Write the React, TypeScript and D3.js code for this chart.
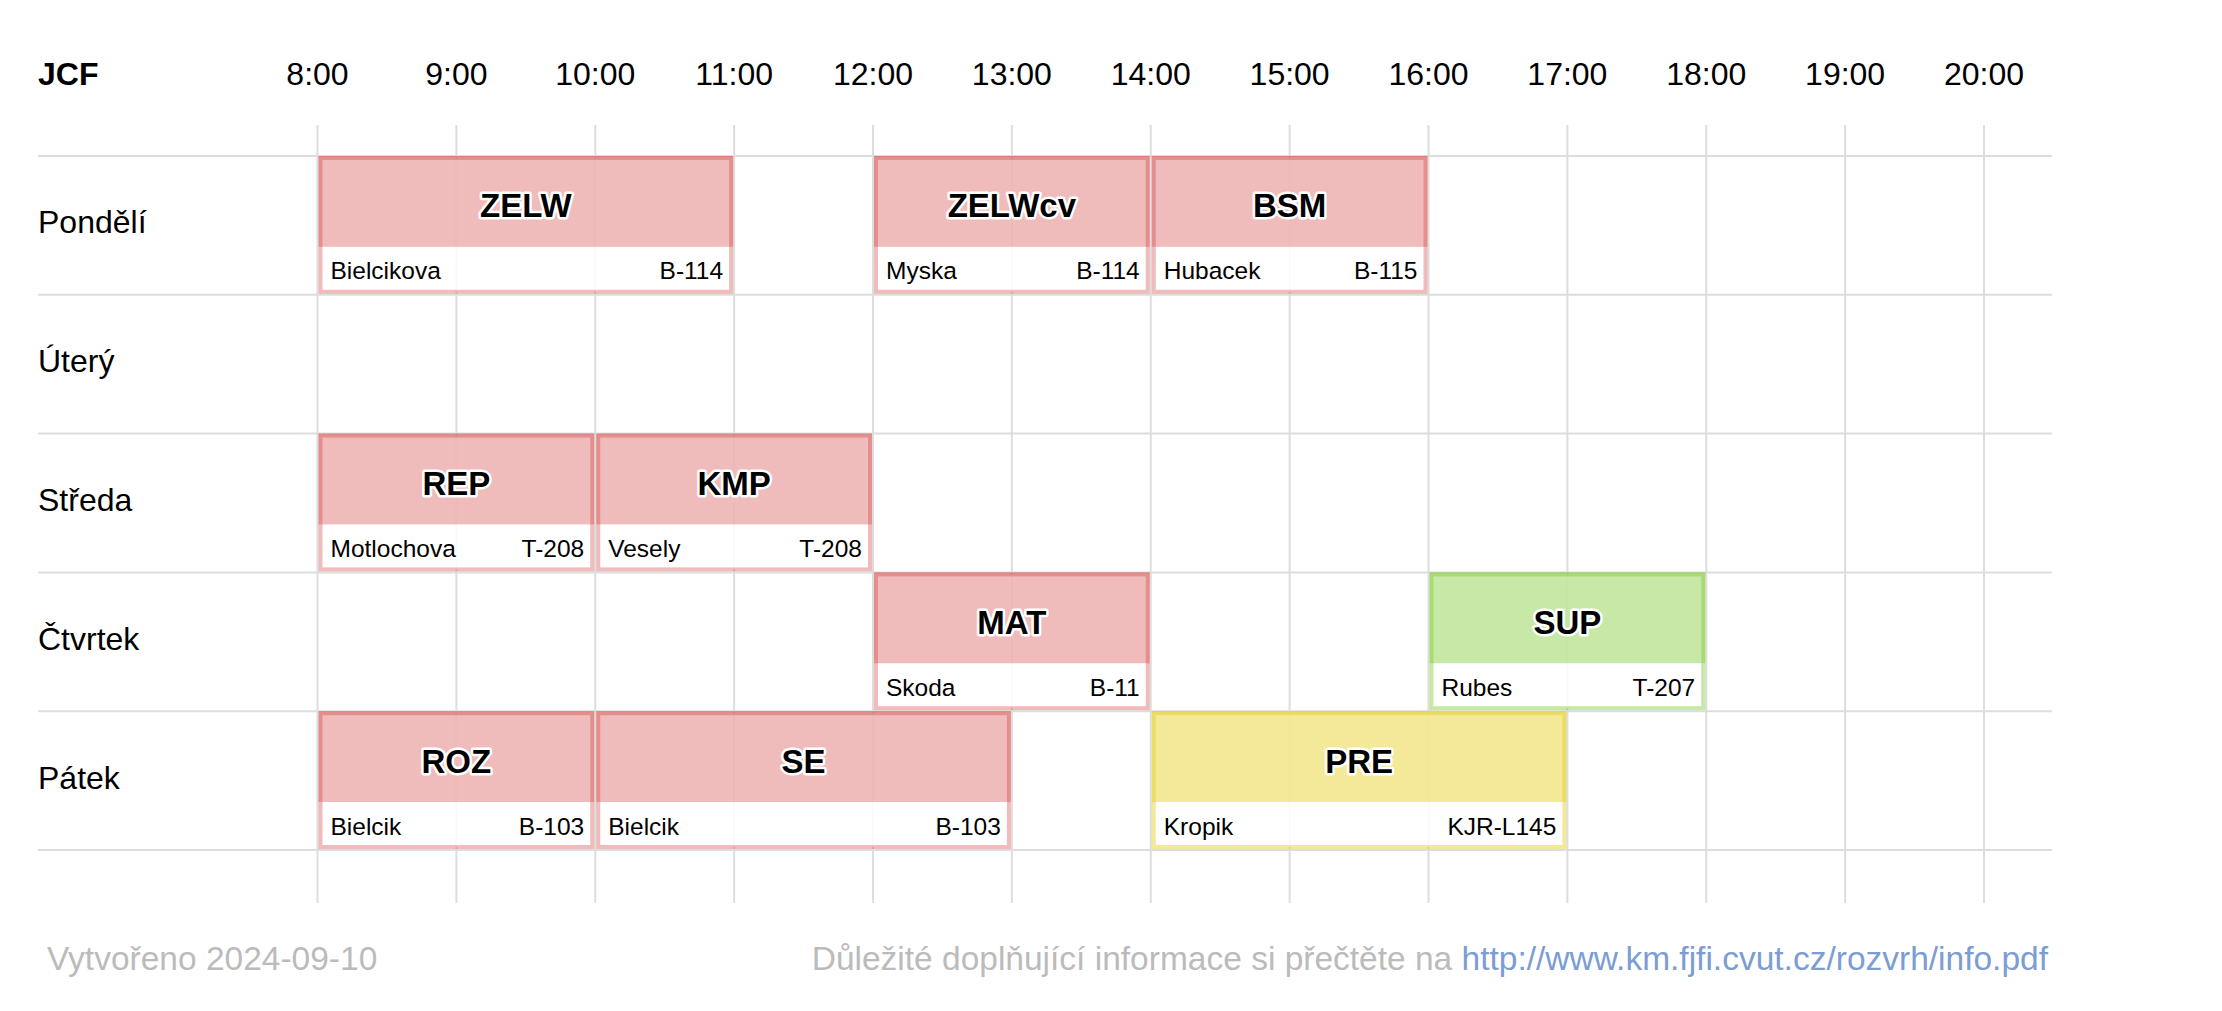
import React from "react";
import * as d3 from "d3";

const days = ["Pondělí", "Úterý", "Středa", "Čtvrtek", "Pátek"];
const hours = d3.range(8, 21);

// each lesson: day, start hour, end hour, code, teacher, room, kind
const lessonDays = ["Pondělí", "Pondělí", "Pondělí", "Středa", "Středa", "Čtvrtek", "Čtvrtek", "Pátek", "Pátek", "Pátek"];
const lessonStart = [8, 12, 14, 8, 10, 12, 16, 8, 10, 14];
const lessonEnd = [11, 14, 16, 10, 12, 14, 18, 10, 13, 17];
const lessonCode = ["ZELW", "ZELWcv", "BSM", "REP", "KMP", "MAT", "SUP", "ROZ", "SE", "PRE"];
const lessonTeacher = ["Bielcikova", "Myska", "Hubacek", "Motlochova", "Vesely", "Skoda", "Rubes", "Bielcik", "Bielcik", "Kropik"];
const lessonRoom = ["B-114", "B-114", "B-115", "T-208", "T-208", "B-11", "T-207", "B-103", "B-103", "KJR-L145"];
const lessonKind = ["P", "P", "P", "P", "P", "P", "V", "P", "P", "O"];

const kindColor: Record<string, string> = {
  P: "rgba(210, 60, 60, 0.35)",
  V: "rgba(125, 200, 45, 0.42)",
  O: "rgba(228, 208, 30, 0.46)",
};

const W = 2222;
const H = 1011;
const font = "'Liberation Sans', Arial, sans-serif";

export default function App() {
  const x = d3.scaleLinear().domain([8, 20]).range([317.5, 1984]);
  const y = d3.scaleBand().domain(days).range([156, 850]).padding(0);
  const rowH = y.bandwidth();

  const lessons = lessonCode.map((code, i) => ({
    code,
    day: lessonDays[i],
    start: lessonStart[i],
    end: lessonEnd[i],
    teacher: lessonTeacher[i],
    room: lessonRoom[i],
    kind: lessonKind[i],
  }));

  const sw = 4;
  const inset = 1;
  const headH = rowH * 0.64;

  return (
    <svg
      width={W}
      height={H}
      style={{ position: "absolute", left: 0, top: 0, display: "block", background: "#fff" }}
      fontFamily={font}
    >
      {/* grid */}
      <g stroke="#dddddd" strokeWidth={2}>
        {hours.map((h) => (
          <line key={"v" + h} x1={x(h)} x2={x(h)} y1={125} y2={903} />
        ))}
        {days.concat(["end"]).map((d, i) => {
          const yy = i < days.length ? (y(d) as number) : (y(days[days.length - 1]) as number) + rowH;
          return <line key={"h" + i} x1={38} x2={2052} y1={yy} y2={yy} />;
        })}
      </g>

      {/* header */}
      <text x={38} y={85} fontSize={32} fontWeight="bold" fill="#000">JCF</text>
      {hours.map((h) => (
        <text key={"t" + h} x={x(h)} y={85} fontSize={32} textAnchor="middle" fill="#000">
          {h}:00
        </text>
      ))}

      {/* day labels */}
      {days.map((d) => (
        <text key={d} x={38} y={(y(d) as number) + rowH / 2 + 8} fontSize={32} fill="#000">
          {d}
        </text>
      ))}

      {/* lessons */}
      {lessons.map((l, i) => {
        const x0 = x(l.start) + inset + sw / 2;
        const x1 = x(l.end) - inset - sw / 2;
        const y0 = (y(l.day) as number) + sw / 2;
        const y1 = (y(l.day) as number) + rowH - inset - sw / 2;
        const c = kindColor[l.kind];
        return (
          <g key={i}>
            <rect x={x0} y={y0} width={x1 - x0} height={y1 - y0} fill="rgba(255,255,255,0.85)" stroke={c} strokeWidth={sw} />
            <rect x={x0 - sw / 2} y={y0 - sw / 2} width={x1 - x0 + sw} height={headH + sw / 2} fill={c} />
            <text
              x={(x0 + x1) / 2}
              y={y0 + headH / 2 + 15}
              fontSize={33}
              fontWeight="bold"
              textAnchor="middle"
              fill="#000"
              stroke="#fff"
              strokeWidth={5}
              strokeLinejoin="round"
              style={{ paintOrder: "stroke" }}
            >
              {l.code}
            </text>
            <text x={x0 + 10} y={y0 + headH + (y1 - y0 - headH) / 2 + 10} fontSize={24.5} fill="#000">
              {l.teacher}
            </text>
            <text x={x1 - 8} y={y0 + headH + (y1 - y0 - headH) / 2 + 10} fontSize={24.5} textAnchor="end" fill="#000">
              {l.room}
            </text>
          </g>
        );
      })}

      {/* footer */}
      <text x={47} y={970} fontSize={33.5} fill="#bbbbbb">Vytvořeno 2024-09-10</text>
      <text x={2048} y={970} fontSize={33.5} textAnchor="end" fill="#bbbbbb">
        <tspan>Důležité doplňující informace si přečtěte na </tspan>
        <tspan fill="#7b9dd3">http://www.km.fjfi.cvut.cz/rozvrh/info.pdf</tspan>
      </text>
    </svg>
  );
}
